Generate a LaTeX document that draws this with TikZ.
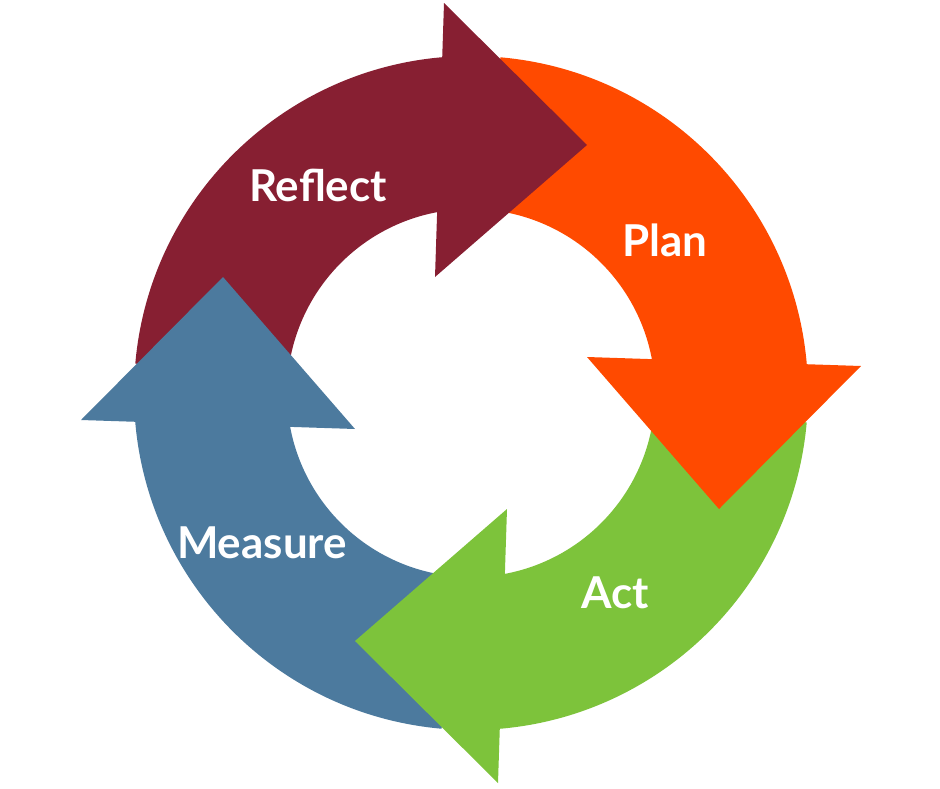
\documentclass[tikz,border=0pt]{standalone}
\usepackage{fontspec}
\setmainfont{Lato}
\begin{document}
\begin{tikzpicture}[x=0.02cm,y=0.02cm,lbl/.style={text=white,font=\bfseries\fontsize{25}{25}\selectfont}]
\definecolor{cReflect}{HTML}{871F32}
\definecolor{cPlan}{HTML}{FF4A00}
\definecolor{cAct}{HTML}{7DC33B}
\definecolor{cMeasure}{HTML}{4C7A9E}
\def\ri{184}
\def\ro{337}

\useasboundingbox (0,0) rectangle (940,-788);
\coordinate (O) at (471,-393);

% bodies
\foreach \c/\k in {cReflect/0,cPlan/1,cAct/2,cMeasure/3}{
  \begin{scope}[shift={(O)},rotate=-90*\k]
    \fill[\c] (175:\ro) arc[start angle=175,end angle=90,radius=\ro*0.02cm]
      -- (95:\ri) arc[start angle=95,end angle=175,radius=\ri*0.02cm] -- cycle;
  \end{scope}
}
% heads
\foreach \c/\k in {cReflect/0,cPlan/1,cAct/2,cMeasure/3}{
  \begin{scope}[shift={(O)},rotate=-90*\k]
    \fill[\c] (-27,390) -- (116,248) -- (-36,116) -- cycle;
  \end{scope}
}

\node[lbl] (reflect) at (318,-185) {Reflect};
\node[lbl] (plan) at (665,-240) {Plan};
\node[lbl] (act) at (615,-593) {Act};
\node[lbl] (measure) at (262,-543) {Measure};
\end{tikzpicture}
\end{document}
